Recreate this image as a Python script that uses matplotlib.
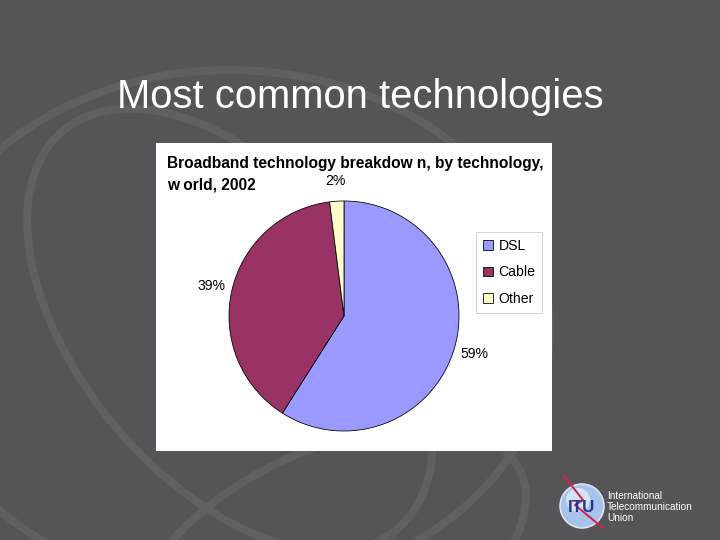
import matplotlib.pyplot as plt
from matplotlib.patches import Rectangle, Circle, Ellipse

plt.rcParams['font.family'] = ['Liberation Sans', 'DejaVu Sans']

labels = ['DSL', 'Cable', 'Other']
shares = [59, 39, 2]
colors = ['#9999FF', '#993366', '#FFFFCC']

slide_title = 'Most common technologies'
chart_title = ['Broadband technology breakdow n, by technology,', 'w orld, 2002']
logo_lines = ['International', 'Telecommunication', 'Union']

fig = plt.figure(figsize=(10, 7.5), dpi=72)
fig.patch.set_facecolor('#555557')

# background layer in pixel coords (y down)
bg = fig.add_axes([0, 0, 1, 1])
bg.set_xlim(0, 720)
bg.set_ylim(540, 0)
bg.axis('off')

# faint globe decoration
arc_col = '#606062'
bg.add_patch(Ellipse((230, 330), 640, 520, fill=False, ec=arc_col, lw=8))
bg.add_patch(Ellipse((230, 330), 300, 520, angle=-40, fill=False, ec=arc_col, lw=8))
bg.add_patch(Ellipse((330, 560), 420, 220, angle=-25, fill=False, ec=arc_col, lw=8))

bg.text(360, 108, slide_title, color='white', fontsize=40, ha='center', va='baseline')

# white chart panel
bg.add_patch(Rectangle((156, 143), 396, 308, fc='white', ec='none'))
bg.text(167, 168, chart_title[0], fontsize=15.5, fontweight='bold', va='baseline')
bg.text(167, 189, chart_title[1], fontsize=15.5, fontweight='bold', va='baseline')

# ITU logo
bg.add_patch(Circle((582, 506), 22, fc='#a9c3e8', ec='#dfe8f5', lw=1.5))
bg.add_patch(Circle((578, 500), 12, fc='#d6e3f4', ec='none'))
bg.plot([564, 583, 575, 603], [476, 500, 505, 528], color='#d0244f', lw=2)
bg.text(582, 508, 'ITU', color='#1f3a8a', fontsize=17, fontweight='bold',
        ha='center', va='center')
for i, t in enumerate(logo_lines):
    bg.text(607, 499 + i * 11, t, color='white', fontsize=10, va='baseline')

# pie
ax = fig.add_axes([229 / 720, 1 - 431 / 540, 230 / 720, 230 / 540])
wedges, _, autotexts = ax.pie(shares, colors=colors, startangle=90, counterclock=False,
                              autopct='%1.0f%%', pctdistance=1.18,
                              wedgeprops=dict(edgecolor='black', linewidth=0.8),
                              textprops=dict(fontsize=14))
ax.set_xlim(-1, 1)
ax.set_ylim(-1, 1)
ax.set_aspect('equal')

leg = ax.legend(wedges, labels, loc='upper left',
                bbox_to_anchor=(476 / 720, 1 - 232 / 540), bbox_transform=fig.transFigure,
                fontsize=14, fancybox=False, edgecolor='#c8c8c8', framealpha=1,
                handlelength=0.7, handleheight=0.7, handletextpad=0.4,
                labelspacing=0.88, borderpad=0.5, borderaxespad=0)
leg.get_frame().set_linewidth(0.8)
for h in leg.legend_handles:
    h.set_edgecolor('black')
    h.set_linewidth(0.8)

fig.savefig('out.png', dpi=72, facecolor=fig.get_facecolor())
